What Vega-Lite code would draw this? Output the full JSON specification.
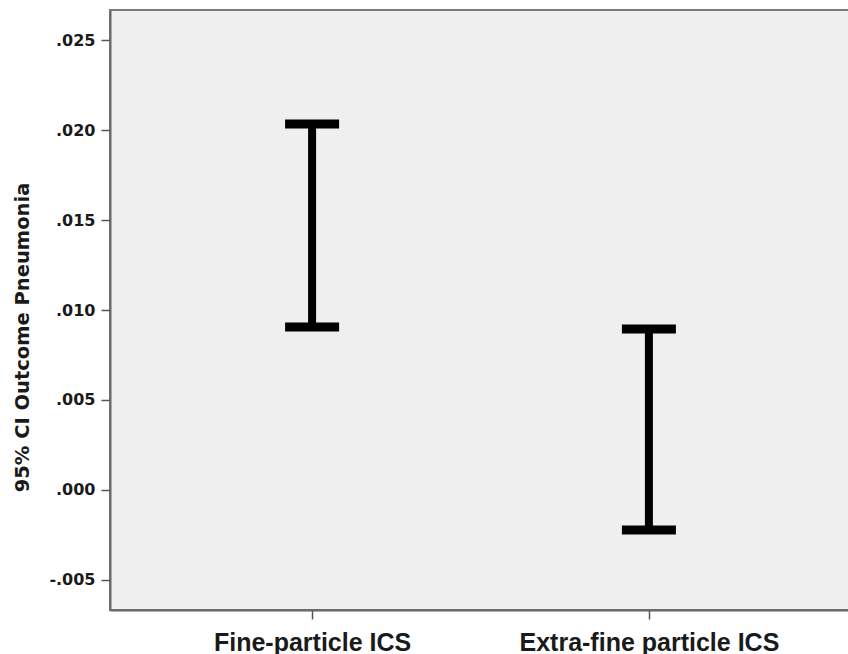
{
  "$schema": "https://vega.github.io/schema/vega-lite/v6.json",
  "autosize": {"type": "none"},
  "padding": {"left": 110, "top": 10, "right": 0, "bottom": 44},
  "width": 741,
  "height": 600,
  "background": "#ffffff",
  "config": {
    "view": {"fill": "#efefef", "stroke": "#7a7a7a", "strokeWidth": 2},
    "font": "Liberation Sans"
  },
  "data": {
    "values": [
      {"group": "Fine-particle ICS", "lower": 0.00905, "upper": 0.02033, "mean": 0.01467},
      {"group": "Extra-fine particle ICS", "lower": -0.00222, "upper": 0.00894, "mean": 0.00339}
    ]
  },
  "encoding": {
    "x": {
      "field": "group",
      "type": "nominal",
      "sort": null,
      "scale": {"type": "point", "padding": 0.6},
      "axis": {
        "title": null,
        "labelAngle": 0,
        "labelFont": "Liberation Sans",
        "labelFontWeight": "bold",
        "labelFontSize": 25,
        "labelLimit": 400,
        "labelColor": "#1a1a1a",
        "labelPadding": 11,
        "tickSize": 9,
        "tickColor": "#555555",
        "tickWidth": 1.5,
        "domainColor": "#666666",
        "domainWidth": 2,
        "grid": false
      }
    }
  },
  "layer": [
    {
      "mark": {"type": "rule", "color": "#000000", "strokeWidth": 8},
      "encoding": {
        "y": {
          "field": "lower",
          "type": "quantitative",
          "scale": {"domain": [-0.00667, 0.02667], "nice": false, "zero": false},
          "axis": {
            "title": "95% CI Outcome Pneumonia",
            "titleFont": "DejaVu Sans",
            "titleFontWeight": "bold",
            "titleFontSize": 19.5,
            "titleColor": "#1a1a1a",
            "titleX": -78,
            "titleY": 327,
            "titleBaseline": "bottom",
            "values": [-0.005, 0, 0.005, 0.01, 0.015, 0.02, 0.025],
            "labelExpr": "replace(replace(format(datum.value, '.3f'), '0.', '.'), '\u2212', '-')",
            "labelFont": "DejaVu Sans",
            "labelFontWeight": "bold",
            "labelFontSize": 16,
            "labelColor": "#1a1a1a",
            "labelPadding": 6,
            "tickSize": 9,
            "tickColor": "#555555",
            "tickWidth": 1.5,
            "domainColor": "#666666",
            "domainWidth": 2,
            "grid": false
          }
        },
        "y2": {"field": "upper"}
      }
    },
    {
      "mark": {"type": "tick", "color": "#000000", "size": 54, "thickness": 9, "opacity": 1},
      "encoding": {"y": {"field": "upper", "type": "quantitative"}}
    },
    {
      "mark": {"type": "tick", "color": "#000000", "size": 54, "thickness": 9, "opacity": 1},
      "encoding": {"y": {"field": "lower", "type": "quantitative"}}
    }
  ]
}
